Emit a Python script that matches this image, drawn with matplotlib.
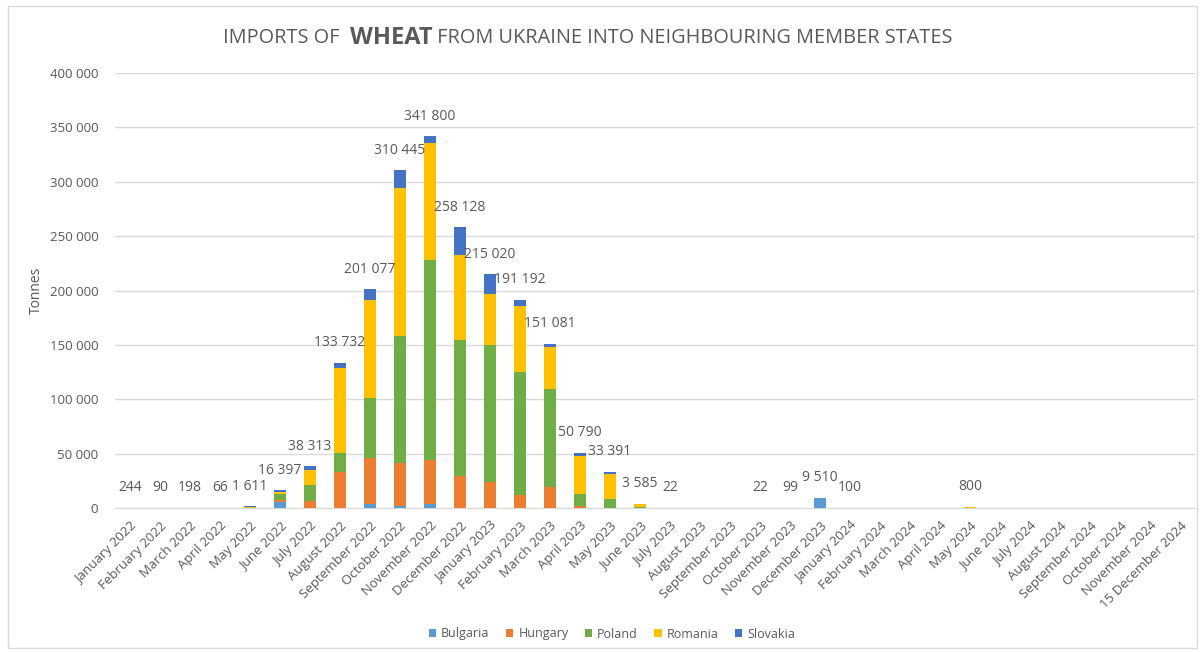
import matplotlib
matplotlib.use("Agg")
import matplotlib.pyplot as plt
from matplotlib.patches import Rectangle
import numpy as np

months = ["January 2022", "February 2022", "March 2022", "April 2022", "May 2022",
          "June 2022", "July 2022", "August 2022", "September 2022", "October 2022",
          "November 2022", "December 2022", "January 2023", "February 2023",
          "March 2023", "April 2023", "May 2023", "June 2023", "July 2023",
          "August 2023", "September 2023", "October 2023", "November 2023",
          "December 2023", "January 2024", "February 2024", "March 2024",
          "April 2024", "May 2024", "June 2024", "July 2024", "August 2024",
          "September 2024", "October 2024", "November 2024", "15 December 2024"]

# tonnes per month
bulgaria = [0, 0, 0, 0, 0, 5500, 300, 0, 3800, 1800, 3700, 0,
            0, 0, 0, 0, 0, 0, 0, 0, 0, 0, 0, 9510,
            0, 0, 0, 0, 0, 0, 0, 0, 0, 0, 0, 0]
hungary = [0, 0, 0, 0, 0, 2000, 6300, 33000, 42300, 39400, 40000, 29500,
           24200, 12300, 19600, 1500, 0, 0, 0, 0, 0, 0, 0, 0,
           0, 0, 0, 0, 0, 0, 0, 0, 0, 0, 0, 0]
poland = [0, 0, 0, 0, 0, 5200, 14400, 18000, 55500, 116700, 184800, 125200,
          126100, 112800, 90000, 11300, 8000, 1200, 0, 0, 0, 0, 0, 0,
          0, 0, 0, 0, 0, 0, 0, 0, 0, 0, 0, 0]
romania = [244, 90, 198, 66, 1200, 2000, 13800, 77800, 89400, 136600, 107000, 77600,
           46300, 60500, 38700, 34900, 22900, 2385, 22, 0, 0, 22, 99, 0,
           100, 0, 0, 0, 800, 0, 0, 0, 0, 0, 0, 0]
slovakia = [0, 0, 0, 0, 411, 1697, 3513, 4932, 10077, 15945, 6300, 25828,
            18420, 5592, 2781, 3090, 2491, 0, 0, 0, 0, 0, 0, 0,
            0, 0, 0, 0, 0, 0, 0, 0, 0, 0, 0, 0]

countries = ["Bulgaria", "Hungary", "Poland", "Romania", "Slovakia"]
colors = ["#5B9BD5", "#ED7D31", "#70AD47", "#FFC000", "#4472C4"]

plt.rcParams['font.family'] = ['Open Sans', 'DejaVu Sans']
grey = "#595959"

W, H = 1203, 652
fig = plt.figure(figsize=(W / 100, H / 100), dpi=100)
ax = fig.add_axes([115 / W, 1 - 508 / H, 1080 / W, 435 / H])

x = np.arange(len(months))
bottom = np.zeros(len(months))
for name, vals, c in zip(countries, [bulgaria, hungary, poland, romania, slovakia], colors):
    vals = np.array(vals, dtype=float)
    ax.bar(x, vals, width=0.4, bottom=bottom, color=c, label=name, zorder=3)
    bottom += vals

# total labels above each bar
for i, tot in enumerate(bottom):
    if tot > 0:
        lab = f"{int(tot):,}".replace(",", " ")
        ax.annotate(lab, (i, tot), xytext=(0, 14.5), textcoords="offset points",
                    ha="center", va="center", fontsize=10, color=grey)

ax.set_xlim(-0.5, len(months) - 0.5)
ax.set_ylim(0, 400000)
ax.set_yticks(np.arange(0, 400001, 50000))
ax.set_yticklabels([f"{v:,}".replace(",", " ") for v in range(0, 400001, 50000)],
                   fontsize=9.5, color=grey)
ax.set_xticks(x)
ax.set_xticklabels(months, rotation=45, ha="right", rotation_mode="anchor",
                   fontsize=9.5, color=grey)
ax.tick_params(axis="both", length=0)
ax.tick_params(axis="y", pad=12)
ax.tick_params(axis="x", pad=8)
ax.grid(axis="y", color="#D9D9D9", linewidth=1, zorder=0)
for s in ["top", "right", "left"]:
    ax.spines[s].set_visible(False)
ax.spines["bottom"].set_color("#D9D9D9")
ax.set_ylabel("Tonnes", fontsize=10, color=grey, labelpad=4)

leg = fig.legend(loc="center", bbox_to_anchor=(612 / W, 1 - 634 / H), ncol=5,
                 frameon=False, fontsize=9, handlelength=0.6, handleheight=0.6,
                 handletextpad=0.4, columnspacing=1.3)
for t in leg.get_texts():
    t.set_color(grey)

# title in three pieces so WHEAT can be bold
ty = 1 - 38 / H
parts = [("IMPORTS OF  ", "normal", 14.3), ("WHEAT", "bold", 17),
         (" FROM UKRAINE INTO NEIGHBOURING MEMBER STATES", "normal", 14.3)]
texts = [fig.text(0, ty, s, fontweight=w, fontsize=fs, color=grey, va="center")
         for s, w, fs in parts]
fig.canvas.draw()
r = fig.canvas.get_renderer()
widths = [t.get_window_extent(r).width for t in texts]
xpos = 588 - sum(widths) / 2
for t, w in zip(texts, widths):
    t.set_x(xpos / W)
    xpos += w

fig.patches.append(Rectangle((7.5 / W, 4 / H), 1189 / W, 642 / H, transform=fig.transFigure,
                             fill=False, edgecolor="#D9D9D9", linewidth=1))

fig.savefig("out.png", dpi=100)
